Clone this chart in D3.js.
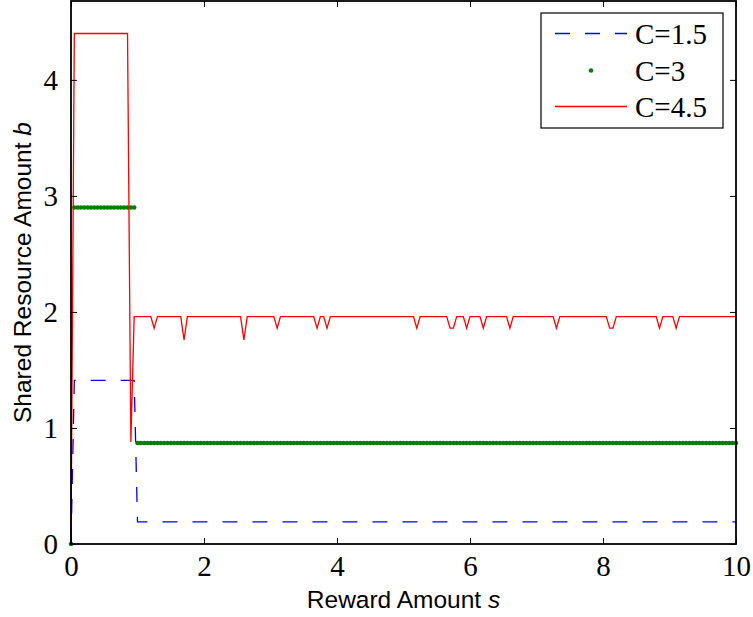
<!DOCTYPE html>
<html>
<head>
<meta charset="utf-8">
<script src="https://cdn.jsdelivr.net/npm/d3@7"></script>
<style>
  html, body { margin: 0; padding: 0; background: #fff; }
  svg { display: block; }
</style>
</head>
<body>
<svg id="chart" width="753" height="617"></svg>
<script>
// Axis ticks
const xTicks = [0, 2, 4, 6, 8, 10];
const yTicks = [0, 1, 2, 3, 4];

// C = 1.5 : polyline vertices (s, b)
const c15S = [0, 0.05, 0.95, 1.0, 10];
const c15B = [0, 1.41, 1.41, 0.19, 0.19];

// C = 3 : sampled points, one per 0.05 step of s
const c3Levels = [
  { from: 0,    to: 0,    b: 0 },
  { from: 0.05, to: 0.95, b: 2.90 },
  { from: 1.0,  to: 10,   b: 0.87 }
];
const c3Step = 0.05;

// C = 4.5 : polyline vertices (s, b)
const c45S = [0, 0.05, 0.85, 0.90, 0.95,
  1.20, 1.25, 1.30,
  1.65, 1.70, 1.75,
  2.55, 2.60, 2.65,
  3.05, 3.10, 3.15,
  3.65, 3.70, 3.75, 3.80, 3.85, 3.90,
  5.15, 5.20, 5.25,
  5.65, 5.70, 5.75, 5.80,
  5.90, 5.95, 6.00,
  6.15, 6.20, 6.25,
  6.55, 6.60, 6.65,
  7.25, 7.30, 7.35,
  8.05, 8.10, 8.15, 8.20,
  8.80, 8.85, 8.90,
  9.05, 9.10, 9.15,
  10];
const c45B = [0, 4.40, 4.40, 0.88, 1.96,
  1.96, 1.86, 1.96,
  1.96, 1.76, 1.96,
  1.96, 1.76, 1.96,
  1.96, 1.86, 1.96,
  1.96, 1.86, 1.96, 1.96, 1.86, 1.96,
  1.96, 1.86, 1.96,
  1.96, 1.86, 1.86, 1.96,
  1.96, 1.86, 1.96,
  1.96, 1.86, 1.96,
  1.96, 1.86, 1.96,
  1.96, 1.86, 1.96,
  1.96, 1.86, 1.86, 1.96,
  1.96, 1.86, 1.96,
  1.96, 1.86, 1.96,
  1.96];

const legendLabels = ["C=1.5", "C=3", "C=4.5"];
const colors = { c15: "#0000ff", c3: "#008000", c45: "#ff0000" };

const svg = d3.select("#chart");
const plot = { left: 71, right: 736, top: 1, bottom: 544 };

const x = d3.scaleLinear().domain([0, 10]).range([plot.left, plot.right]);
const y = d3.scaleLinear().domain([0, 4.68]).range([plot.bottom, plot.top]);

const serif = "'Liberation Serif', 'Times New Roman', serif";
const sans = "'Liberation Sans', Arial, Helvetica, sans-serif";

// Data series
const c15 = c15S.map((s, i) => [s, c15B[i]]);
const c45 = c45S.map((s, i) => [s, c45B[i]]);
const c3 = [];
c3Levels.forEach(l => {
  const n = Math.round((l.to - l.from) / c3Step);
  for (let k = 0; k <= n; k++) c3.push([l.from + k * c3Step, l.b]);
});

const line = d3.line().x(d => x(d[0])).y(d => y(d[1]));

const g = svg.append("g");

g.append("path").datum(c15)
  .attr("d", line).attr("fill", "none")
  .attr("stroke", colors.c15).attr("stroke-width", 1.3)
  .attr("stroke-dasharray", "15,15");

g.append("g").selectAll("circle").data(c3).join("circle")
  .attr("cx", d => x(d[0])).attr("cy", d => y(d[1]))
  .attr("r", 2.3).attr("fill", colors.c3);

g.append("path").datum(c45)
  .attr("d", line).attr("fill", "none")
  .attr("stroke", colors.c45).attr("stroke-width", 1.3)
  .attr("stroke-linejoin", "miter");

// Axes box with inward ticks on all four sides
const tickLen = 6;
const axisStyle = sel => {
  sel.select(".domain").remove();
  sel.selectAll(".tick line").attr("stroke", "#000").attr("stroke-width", 1);
};

svg.append("g").attr("transform", `translate(0,${plot.bottom})`)
  .call(d3.axisBottom(x).tickValues(xTicks).tickSizeInner(-tickLen).tickPadding(11).tickFormat(d3.format("d")))
  .call(axisStyle)
  .selectAll("text").attr("font-family", serif).attr("font-size", 29).attr("fill", "#000")
  .attr("dy", "0.72em");

svg.append("g").attr("transform", `translate(0,${plot.top})`)
  .call(d3.axisTop(x).tickValues(xTicks).tickSizeInner(-tickLen).tickFormat(""))
  .call(axisStyle);

svg.append("g").attr("transform", `translate(${plot.left},0)`)
  .call(d3.axisLeft(y).tickValues(yTicks).tickSizeInner(-tickLen).tickPadding(13).tickFormat(d3.format("d")))
  .call(axisStyle)
  .selectAll("text").attr("font-family", serif).attr("font-size", 29).attr("fill", "#000");

svg.append("g").attr("transform", `translate(${plot.right},0)`)
  .call(d3.axisRight(y).tickValues(yTicks).tickSizeInner(-tickLen).tickFormat(""))
  .call(axisStyle);

svg.append("rect")
  .attr("x", plot.left).attr("y", plot.top)
  .attr("width", plot.right - plot.left).attr("height", plot.bottom - plot.top)
  .attr("fill", "none").attr("stroke", "#000").attr("stroke-width", 1.8);

// Axis titles
const xt = svg.append("text")
  .attr("x", (plot.left + plot.right) / 2).attr("y", 608)
  .attr("text-anchor", "middle").attr("font-family", sans).attr("font-size", 24.5).attr("fill", "#000");
xt.append("tspan").text("Reward Amount ");
xt.append("tspan").attr("font-style", "italic").text("s");

const yt = svg.append("text")
  .attr("transform", `translate(31,${(plot.top + plot.bottom) / 2}) rotate(-90)`)
  .attr("text-anchor", "middle").attr("font-family", sans).attr("font-size", 24.5).attr("fill", "#000");
yt.append("tspan").text("Shared Resource Amount ");
yt.append("tspan").attr("font-style", "italic").text("b");

// Legend
const lg = svg.append("g");
lg.append("rect").attr("x", 541).attr("y", 13).attr("width", 182).attr("height", 115)
  .attr("fill", "#fff").attr("stroke", "#000").attr("stroke-width", 1.2);
const rowsY = [33.5, 70.5, 106.5];
lg.append("line").attr("x1", 555).attr("x2", 627).attr("y1", rowsY[0]).attr("y2", rowsY[0])
  .attr("stroke", colors.c15).attr("stroke-width", 1.3).attr("stroke-dasharray", "15,15");
lg.append("circle").attr("cx", 591).attr("cy", rowsY[1]).attr("r", 2.3).attr("fill", colors.c3);
lg.append("line").attr("x1", 555).attr("x2", 627).attr("y1", rowsY[2]).attr("y2", rowsY[2])
  .attr("stroke", colors.c45).attr("stroke-width", 1.3);
lg.selectAll("text.lab").data(legendLabels).join("text").attr("class", "lab")
  .attr("x", 635).attr("y", (d, i) => rowsY[i]).attr("dy", "0.35em")
  .attr("font-family", serif).attr("font-size", 29).attr("fill", "#000")
  .text(d => d);
</script>
</body>
</html>
